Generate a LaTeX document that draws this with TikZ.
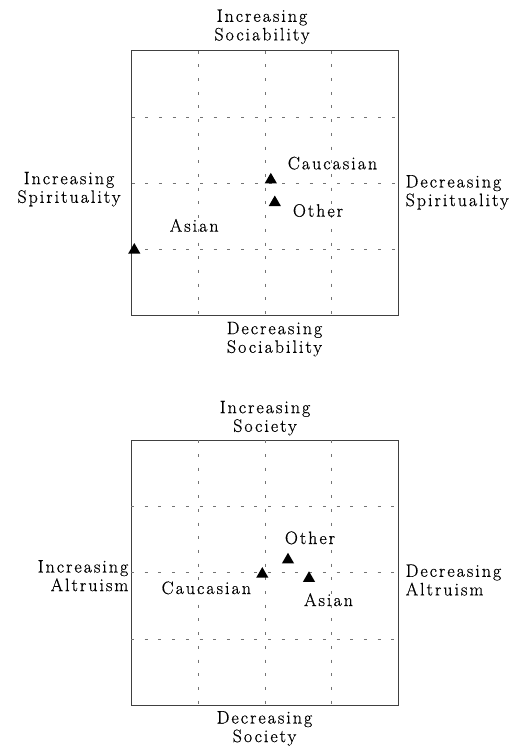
\documentclass[tikz,border=0pt]{standalone}
\usepackage{fontspec}
\usepackage{tikz}
\usetikzlibrary{shapes.geometric}

\newfontfamily\lblfont{Latin Modern Roman}[LetterSpace=11, FakeBold=0.5]
\newcommand{\lbl}{\lblfont\fontsize{18}{18.6}\selectfont}

\tikzset{
	frame/.style={line width=0.9pt, black!75},
	gridline/.style={line width=0.9pt, black!55, dash pattern=on 3pt off 10.7pt},
	marker/.style={regular polygon, regular polygon sides=3, fill=black, inner sep=0pt, minimum size=14pt},
	axislabel/.style={font=\lbl, inner sep=0pt},
	grouplabel/.style={font=\lbl, inner sep=0pt, anchor=base}
}

\begin{document}
\begin{tikzpicture}[x=1pt, y=-1pt]
	\useasboundingbox (0,0) rectangle (521,746);

	% upper panel
	\draw[frame] (131.5,50.7) rectangle (398.3,315.7);
	\foreach \x in {198.7, 265, 331.7}
		\draw[gridline] (\x,50.7) -- (\x,315.7);
	\foreach \y in {117, 183.3, 249.3}
		\draw[gridline] (131.5,\y) -- (398.3,\y);

	\node[axislabel, anchor=north, align=center] (socup)   at (262, 9.3)    {Increasing\\Sociability};
	\node[axislabel, anchor=north, align=center] (socdown) at (274.5, 321.7) {Decreasing\\Sociability};
	\node[axislabel, anchor=north, align=center] (spirup)  at (69, 171.7)   {Increasing\\Spirituality};
	\node[axislabel, anchor=north west, align=left] (spirdown) at (405.5, 175) {Decreasing\\Spirituality};

	\node[marker] (asian1) at (134.3, 250)   {};
	\node[marker] (cauc1)  at (270.8, 179.8) {};
	\node[marker] (other1) at (274.8, 202.5) {};

	\node[grouplabel] (asianlab1) at (194.2, 231.7) {Asian};
	\node[grouplabel] (cauclab1)  at (332.5, 169.3) {Caucasian};
	\node[grouplabel] (otherlab1) at (318, 216.7)   {Other};

	% lower panel
	\draw[frame] (131,440.3) rectangle (398.3,705.7);
	\foreach \x in {198.7, 265, 331}
		\draw[gridline] (\x,440.3) -- (\x,705.7);
	\foreach \y in {506.7, 572.7, 639}
		\draw[gridline] (131,\y) -- (398.3,\y);

	\node[axislabel, anchor=north, align=center] (socyup)   at (265, 400.7)  {Increasing\\Society};
	\node[axislabel, anchor=north, align=center] (socydown) at (264.5, 711)  {Decreasing\\Society};
	\node[axislabel, anchor=north east, align=right] (altup) at (128.5, 560) {Increasing\\Altruism};
	\node[axislabel, anchor=north west, align=left] (altdown) at (405.5, 564.3) {Decreasing\\Altruism};

	\node[marker] (cauc2)  at (262.3, 574.1) {};
	\node[marker] (other2) at (288, 559.8)   {};
	\node[marker] (asian2) at (309, 578.3)   {};

	\node[grouplabel] (cauclab2)  at (206.3, 594) {Caucasian};
	\node[grouplabel] (otherlab2) at (310, 544)   {Other};
	\node[grouplabel] (asianlab2) at (328.5, 606) {Asian};
\end{tikzpicture}
\end{document}
